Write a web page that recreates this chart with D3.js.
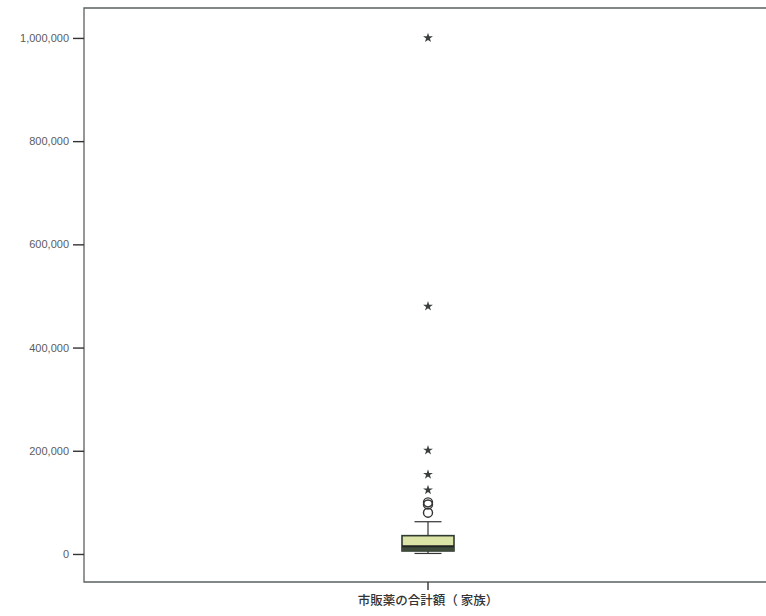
<!DOCTYPE html>
<html>
<head>
<meta charset="utf-8">
<script src="https://cdn.jsdelivr.net/npm/d3@7"></script>
<style>
  body { margin: 0; background: #fff; }
  svg { display: block; }
</style>
</head>
<body>
<svg id="chart" width="766" height="616"></svg>
<script>
// one variable, SPSS style box plot
var categories = ["市販薬の合計額（ 家族）"];
var boxStats = [{whiskerLow: 1000, q1: 5800, median: 15000, q3: 35500, whiskerHigh: 62500}];
var outliers = [100000, 96000, 80000];          // circles
var extremes = [124000, 154000, 201000, 480000, 1000000]; // stars
var tickValues = [0, 200000, 400000, 600000, 800000, 1000000];

var svg = d3.select("#chart");
var frame = {left: 84, top: 8, right: 772, bottom: 582};

var y = d3.scaleLinear()
    .domain([-54300, 1058000])
    .range([frame.bottom, frame.top]);

var x = d3.scaleBand()
    .domain(categories)
    .range([frame.left, frame.right]);

// frame (right side runs off the picture)
svg.append("path")
    .attr("d", "M" + frame.right + "," + frame.top + "H" + frame.left + "V" + frame.bottom + "H" + frame.right)
    .attr("fill", "none")
    .attr("stroke", "#5a6260")
    .attr("stroke-width", 1.3);

// y axis
var yAxis = svg.append("g")
    .attr("transform", "translate(" + frame.left + ",0)")
    .call(d3.axisLeft(y).tickValues(tickValues).tickFormat(d3.format(",")).tickSize(11).tickPadding(4));
yAxis.select(".domain").remove();
yAxis.selectAll(".tick line").attr("stroke", "#333").attr("stroke-width", 1.4);
yAxis.selectAll(".tick text")
    .attr("fill", "#5c5c5c")
    .style("font-family", "Arial, 'Liberation Sans', sans-serif")
    .style("font-size", "11px");

// x axis
var xAxis = svg.append("g")
    .attr("transform", "translate(0," + frame.bottom + ")")
    .call(d3.axisBottom(x).tickSize(8).tickPadding(6));
xAxis.select(".domain").remove();
xAxis.selectAll(".tick line").attr("stroke", "#333").attr("stroke-width", 1.4);
xAxis.selectAll(".tick text")
    .attr("fill", "#333")
    .style("font-family", "'Noto Sans CJK JP', sans-serif")
    .style("font-size", "12.5px")
    .style("font-weight", "500");

var boxW = 52, capW = 27;
var g = svg.append("g");

boxStats.forEach(function (s, i) {
    var cx = x(categories[i]) + x.bandwidth() / 2;
    // whiskers
    g.append("line").attr("x1", cx).attr("x2", cx)
        .attr("y1", y(s.whiskerHigh)).attr("y2", y(s.q3))
        .attr("stroke", "#333").attr("stroke-width", 1.2);
    g.append("line").attr("x1", cx).attr("x2", cx)
        .attr("y1", y(s.q1)).attr("y2", y(s.whiskerLow))
        .attr("stroke", "#333").attr("stroke-width", 1.2);
    [s.whiskerHigh, s.whiskerLow].forEach(function (v) {
        g.append("line").attr("x1", cx - capW / 2).attr("x2", cx + capW / 2)
            .attr("y1", y(v)).attr("y2", y(v))
            .attr("stroke", "#333").attr("stroke-width", 1.2);
    });
    // box
    g.append("rect")
        .attr("x", cx - boxW / 2).attr("width", boxW)
        .attr("y", y(s.q3)).attr("height", y(s.q1) - y(s.q3))
        .attr("fill", "#dbe3a6")
        .attr("stroke", "#2f3a30").attr("stroke-width", 1.6);
    g.append("rect")
        .attr("x", cx - boxW / 2).attr("width", boxW)
        .attr("y", y(s.median)).attr("height", y(s.q1) - y(s.median))
        .attr("fill", "#3e4a3a");
    g.append("line").attr("x1", cx - boxW / 2).attr("x2", cx + boxW / 2)
        .attr("y1", y(s.median)).attr("y2", y(s.median))
        .attr("stroke", "#222").attr("stroke-width", 2);

    g.selectAll(".outlier").data(outliers).enter().append("circle")
        .attr("class", "outlier")
        .attr("cx", cx).attr("cy", function (d) { return y(d); })
        .attr("r", 4.5)
        .attr("fill", "none").attr("stroke", "#333").attr("stroke-width", 1.4);

    g.selectAll(".extreme").data(extremes).enter().append("path")
        .attr("class", "extreme")
        .attr("transform", function (d) { return "translate(" + cx + "," + y(d) + ")"; })
        .attr("d", d3.symbol().type(d3.symbolStar).size(30))
        .attr("fill", "#3a3f3e");
});
</script>
</body>
</html>
